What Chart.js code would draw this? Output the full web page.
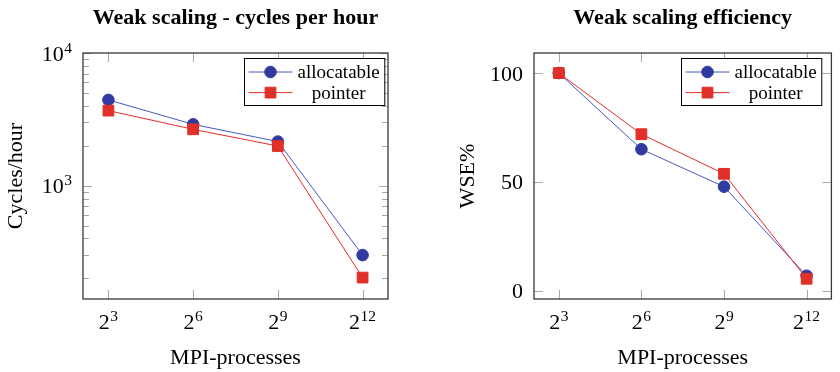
<!DOCTYPE html>
<html>
<head>
<meta charset="utf-8">
<script src="https://cdn.jsdelivr.net/npm/chart.js@4.4.0/dist/chart.umd.min.js"></script>
<style>
body { margin: 0; background: #fff; }
#wrap { position: relative; width: 840px; height: 372px; }
canvas { position: absolute; top: 0; }
</style>
</head>
<body>
<div id="wrap">
	<canvas id="cycles" width="420" height="372" style="left:0px"></canvas>
	<canvas id="wse" width="420" height="372" style="left:420px"></canvas>
</div>
<script>
// data
var processExps = [3, 6, 9, 12];           // MPI-processes = 2^exp
var seriesNames = ["allocatable", "pointer"];
var cyclesAllocatable = [4430, 2900, 2150, 300];
var cyclesPointer = [3680, 2660, 1990, 203];
var wseAllocatable = [100, 65, 47.8, 6.9];
var wsePointer = [100, 71.9, 53.7, 5.5];
var wseTicks = [0, 50, 100];
var cycleDecades = [2, 3, 4];

var serif = "'Liberation Serif', 'DejaVu Serif', serif";
var blueLine = "rgb(70, 88, 196)", blueMark = "rgb(48, 58, 160)";
var redLine = "rgb(232, 42, 38)", redMark = "rgb(224, 48, 40)";

function strokeLine(ctx, x1, y1, x2, y2) {
	ctx.beginPath();
	ctx.moveTo(x1, y1);
	ctx.lineTo(x2, y2);
	ctx.stroke();
}

function drawPower(ctx, base, exp, x, y, align) {
	ctx.font = "22px " + serif;
	var wb = ctx.measureText(base).width;
	ctx.font = "15.5px " + serif;
	var we = exp ? ctx.measureText(exp).width + 0.5 : 0;
	var x0 = align == "center" ? x - (wb + we) / 2 : x - wb - we;
	ctx.textAlign = "left";
	ctx.textBaseline = "alphabetic";
	ctx.fillStyle = "#000";
	ctx.font = "22px " + serif;
	ctx.fillText(base, x0, y);
	if (exp) {
		ctx.font = "15.5px " + serif;
		ctx.fillText(exp, x0 + wb + 0.5, y - 8);
	}
}

function isMajor(scale, v) {
	if (scale.type != "logarithmic") return true;
	var p = Math.pow(10, Math.round(Math.log10(v)));
	return Math.abs(v - p) < 1e-6 * p;
}

function drawLegend(chart, opts) {
	var ctx = chart.ctx, a = chart.chartArea;
	var sets = chart.data.datasets;
	ctx.save();
	ctx.font = "19px " + serif;
	var tw = 0;
	sets.forEach(function(ds) { tw = Math.max(tw, ctx.measureText(ds.label).width); });
	var w = 4 + 44 + 5 + tw + 5, h = 47;
	var x0 = Math.round(a.right - opts.legendInset - w) + 0.5, y0 = Math.round(a.top + 5) + 0.5;
	ctx.fillStyle = "#fff";
	ctx.fillRect(x0, y0, w, h);
	ctx.strokeStyle = "#000";
	ctx.lineWidth = 1;
	ctx.strokeRect(x0, y0, w, h);
	sets.forEach(function(ds, i) {
		var cy = y0 + 13.5 + i * 20.6;
		ctx.strokeStyle = ds.borderColor;
		ctx.lineWidth = ds.borderWidth;
		strokeLine(ctx, x0 + 4, cy, x0 + 48, cy);
		ctx.fillStyle = ds.pointBackgroundColor;
		ctx.strokeStyle = ds.pointBorderColor;
		ctx.lineWidth = 1;
		Chart.helpers.drawPoint(ctx, {pointStyle: ds.pointStyle, radius: ds.pointRadius, rotation: 0, borderWidth: 1}, x0 + 26, cy);
		ctx.fillStyle = "#000";
		ctx.font = "19px " + serif;
		ctx.textAlign = "center";
		ctx.textBaseline = "middle";
		ctx.fillText(ds.label, x0 + 53 + tw / 2, cy + 1);
	});
	ctx.restore();
}

var pgfAxes = {
	id: "pgfAxes",
	beforeDatasetsDraw: function(chart) {
		var ctx = chart.ctx, a = chart.chartArea;
		var xs = chart.scales.x, ys = chart.scales.y;
		ctx.save();
		ctx.strokeStyle = "#a8a8a8";
		ctx.lineWidth = 1;
		xs.ticks.forEach(function(t) {
			var px = Math.round(xs.getPixelForValue(t.value)) + 0.5;
			strokeLine(ctx, px, a.bottom, px, a.bottom - 9);
			strokeLine(ctx, px, a.top, px, a.top + 9);
		});
		ys.ticks.forEach(function(t) {
			var py = Math.round(ys.getPixelForValue(t.value)) + 0.5;
			var len = isMajor(ys, t.value) ? 9 : 6;
			strokeLine(ctx, a.left, py, a.left + len, py);
			strokeLine(ctx, a.right, py, a.right - len, py);
		});
		ctx.strokeStyle = "#3a3a3a";
		ctx.lineWidth = 1.3;
		ctx.strokeRect(a.left, a.top, a.right - a.left, a.bottom - a.top);
		ctx.restore();
	},
	afterDraw: function(chart, args, opts) {
		var ctx = chart.ctx, a = chart.chartArea;
		var xs = chart.scales.x, ys = chart.scales.y;
		ctx.save();
		xs.ticks.forEach(function(t) {
			drawPower(ctx, "2", String(t.value), xs.getPixelForValue(t.value), a.bottom + 30, "center");
		});
		ys.ticks.forEach(function(t) {
			if (!isMajor(ys, t.value)) return;
			var py = ys.getPixelForValue(t.value);
			if (ys.type == "logarithmic") {
				drawPower(ctx, "10", String(Math.round(Math.log10(t.value))), a.left - 11, py + 7.5, "right");
			} else {
				drawPower(ctx, String(t.value), "", a.left - 11, py + 7.5, "right");
			}
		});
		ctx.restore();
		drawLegend(chart, opts);
	}
};

function makeDataset(name, values, line, mark, style, radius, order) {
	return {
		label: name,
		data: processExps.map(function(e, i) { return {x: e, y: values[i]}; }),
		borderColor: line,
		borderWidth: 1,
		pointBackgroundColor: mark,
		pointBorderColor: mark,
		pointBorderWidth: 1,
		pointStyle: style,
		pointRadius: radius,
		pointHoverRadius: radius,
		order: order,
		tension: 0
	};
}

function makeChart(cvs, title, yLabel, yTitlePad, yWidth, padRight, inset, yOpts, setA, setB) {
	var y = Object.assign({
		afterFit: function(s) { s.width = yWidth; },
		ticks: {display: false},
		grid: {display: false, drawTicks: false},
		border: {display: false},
		title: {display: true, text: yLabel, color: "#000", font: {family: serif, size: 22}, padding: {top: yTitlePad, bottom: 0}}
	}, yOpts);
	return new Chart(cvs, {
		type: "line",
		data: {
			datasets: [
				makeDataset(seriesNames[0], setA, blueLine, blueMark, "circle", 5.8, 1),
				makeDataset(seriesNames[1], setB, redLine, redMark, "rect", 7.6, 0)
			]
		},
		options: {
			responsive: false,
			maintainAspectRatio: false,
			animation: false,
			layout: {padding: {left: 0, right: padRight, top: 0, bottom: 0}},
			plugins: {
				legend: {display: false},
				tooltip: {enabled: false},
				title: {
					display: true,
					text: title,
					fullSize: false,
					color: "#000",
					font: {family: serif, size: 22, weight: "bold"},
					padding: {top: 5, bottom: 21.6}
				},
				pgfAxes: {legendInset: inset}
			},
			scales: {
				x: {
					type: "linear",
					min: 2.1,
					max: 12.9,
					afterBuildTicks: function(s) { s.ticks = processExps.map(function(v) { return {value: v}; }); },
					afterFit: function(s) { s.height = 73; },
					ticks: {display: false},
					grid: {display: false, drawTicks: false},
					border: {display: false},
					title: {display: true, text: "MPI-processes", color: "#000", font: {family: serif, size: 22}, padding: {top: 0, bottom: 1}}
				},
				y: y
			}
		},
		plugins: [pgfAxes]
	});
}

makeChart(document.getElementById("cycles"), "Weak scaling - cycles per hour", "Cycles/hour", 3, 83, 32, 4, {
	type: "logarithmic",
	min: 140,
	max: 10000,
	afterBuildTicks: function(s) {
		var t = [];
		cycleDecades.forEach(function(d) {
			for (var m = 1; m <= 9; m++) {
				var v = m * Math.pow(10, d);
				if (v >= s.min && v <= s.max) t.push({value: v});
			}
		});
		s.ticks = t;
	}
}, cyclesAllocatable, cyclesPointer);

makeChart(document.getElementById("wse"), "Weak scaling efficiency", "WSE%", 35, 114, 2, 10, {
	type: "linear",
	min: -3.8,
	max: 109.2,
	afterBuildTicks: function(s) { s.ticks = wseTicks.map(function(v) { return {value: v}; }); }
}, wseAllocatable, wsePointer);
</script>
</body>
</html>
